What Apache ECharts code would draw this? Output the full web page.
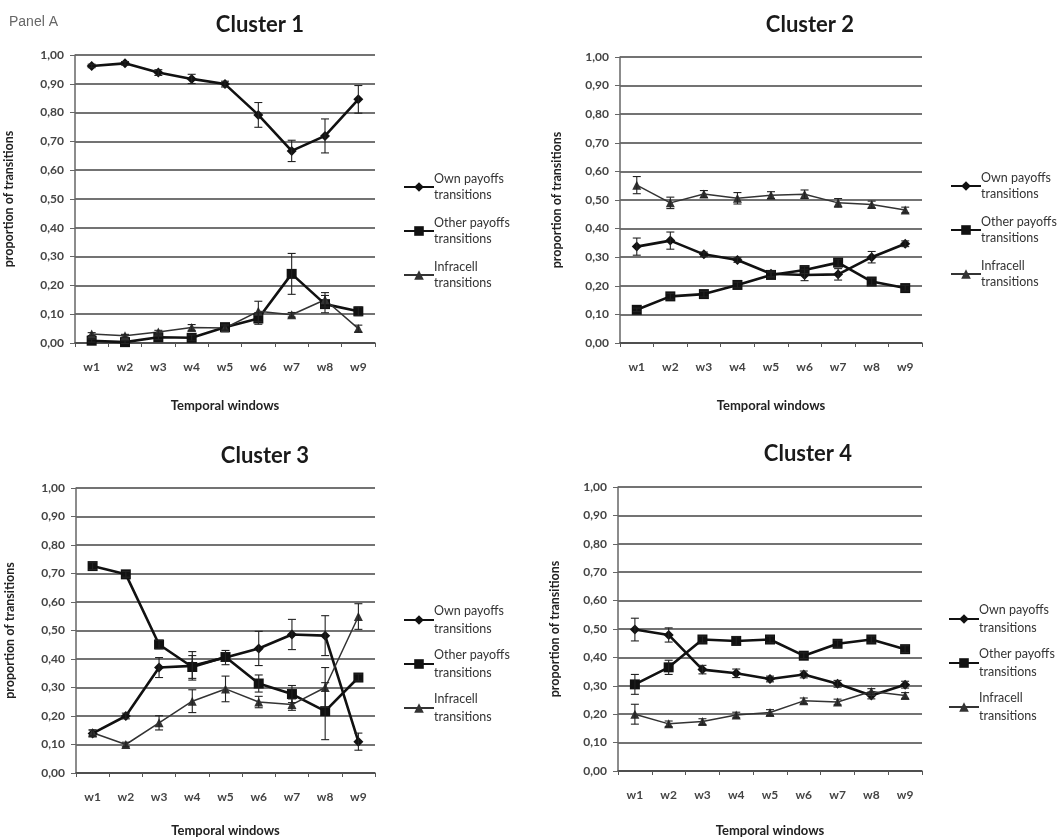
<!DOCTYPE html>
<html>
<head>
<meta charset="utf-8">
<script src="https://cdn.jsdelivr.net/npm/echarts@6/dist/echarts.min.js"></script>
<style>html,body{margin:0;padding:0;background:#fff;}#c{width:1064px;height:838px;}</style>
</head>
<body>
<div id="c"></div>
<script>
var categories = ['w1','w2','w3','w4','w5','w6','w7','w8','w9'];
var seriesNames = ['Own payoffs transitions','Other payoffs transitions','Infracell transitions'];
var clusterTitles = ['Cluster 1','Cluster 2','Cluster 3','Cluster 4'];

var own1 = [0.962, 0.971, 0.939, 0.917, 0.899, 0.792, 0.667, 0.719, 0.846];
var ownErr1 = [0.006, 0.006, 0.010, 0.016, 0.010, 0.043, 0.037, 0.059, 0.048];
var other1 = [0.008, 0.003, 0.020, 0.018, 0.055, 0.085, 0.240, 0.135, 0.110];
var otherErr1 = [0.005, 0.005, 0.008, 0.010, 0.010, 0.020, 0.071, 0.030, 0.015];
var infra1 = [0.031, 0.025, 0.038, 0.054, 0.052, 0.110, 0.098, 0.150, 0.050];
var infraErr1 = [0.005, 0.005, 0.006, 0.010, 0.008, 0.035, 0.008, 0.025, 0.012];

var own2 = [0.337, 0.358, 0.310, 0.290, 0.242, 0.238, 0.240, 0.300, 0.347];
var ownErr2 = [0.030, 0.030, 0.008, 0.008, 0.010, 0.020, 0.020, 0.020, 0.010];
var other2 = [0.116, 0.163, 0.171, 0.203, 0.238, 0.255, 0.281, 0.215, 0.192];
var otherErr2 = [0.006, 0.010, 0.010, 0.010, 0.010, 0.012, 0.012, 0.012, 0.010];
var infra2 = [0.552, 0.490, 0.521, 0.506, 0.517, 0.520, 0.490, 0.484, 0.465];
var infraErr2 = [0.030, 0.020, 0.012, 0.020, 0.012, 0.015, 0.015, 0.012, 0.010];

var own3 = [0.139, 0.200, 0.370, 0.376, 0.405, 0.437, 0.486, 0.482, 0.110];
var ownErr3 = [0.012, 0.010, 0.035, 0.050, 0.025, 0.060, 0.053, 0.070, 0.030];
var other3 = [0.726, 0.697, 0.451, 0.372, 0.407, 0.314, 0.277, 0.217, 0.335];
var otherErr3 = [0.012, 0.010, 0.015, 0.040, 0.015, 0.030, 0.030, 0.100, 0.012];
var infra3 = [0.141, 0.100, 0.176, 0.252, 0.295, 0.249, 0.240, 0.300, 0.549];
var infraErr3 = [0.010, 0.008, 0.025, 0.040, 0.045, 0.020, 0.020, 0.070, 0.045];

var own4 = [0.498, 0.479, 0.357, 0.344, 0.324, 0.340, 0.307, 0.266, 0.304];
var ownErr4 = [0.040, 0.025, 0.015, 0.015, 0.010, 0.012, 0.012, 0.012, 0.012];
var other4 = [0.305, 0.365, 0.463, 0.458, 0.463, 0.406, 0.448, 0.463, 0.429];
var otherErr4 = [0.035, 0.025, 0.012, 0.015, 0.012, 0.010, 0.012, 0.012, 0.012];
var infra4 = [0.200, 0.166, 0.174, 0.197, 0.206, 0.247, 0.243, 0.280, 0.266];
var infraErr4 = [0.035, 0.010, 0.010, 0.010, 0.010, 0.010, 0.010, 0.010, 0.010];

var panels = [
  {vals:[own1,other1,infra1], errs:[ownErr1,otherErr1,infraErr1]},
  {vals:[own2,other2,infra2], errs:[ownErr2,otherErr2,infraErr2]},
  {vals:[own3,other3,infra3], errs:[ownErr3,otherErr3,infraErr3]},
  {vals:[own4,other4,infra4], errs:[ownErr4,otherErr4,infraErr4]}
];

var layout = {
  grids: [
    {left:75, top:55, width:300, height:288},
    {left:620, top:57, width:302, height:286},
    {left:76, top:488, width:299, height:289},
    {left:618, top:487, width:304, height:288}
  ],
  titles: [[255,9],[805,9],[260,440],[803,438]],
  legends: [[398,158,16,-4],[945,157,16,-4],[398,588,18,-10],[943,587,18,-10]],
  xNameGap: [56, 56, 51, 53],
  yNameGap: [60, 57, 60, 57]
};

var FONT = 'Lato, "Liberation Sans", sans-serif';
var symbols = ['diamond','rect','triangle'];
var symbolSizes = [10, 10, 9];
var lineWidths = [2.6, 2.6, 1.5];
var colors = ['#111111','#111111','#333333'];

var option = {
  backgroundColor:'#ffffff',
  animation:false,
  title: [{text:'Panel A', left:4, top:10, textStyle:{fontFamily:'"Liberation Sans", Arial, sans-serif', fontSize:14, fontWeight:'normal', color:'#666'}}],
  grid: [], xAxis: [], yAxis: [], legend: [], series: []
};

panels.forEach(function(p, k){
  var g = layout.grids[k];
  option.grid.push({left:g.left, top:g.top, width:g.width, height:g.height, containLabel:false});
  option.title.push({text:clusterTitles[k], left:layout.titles[k][0], top:layout.titles[k][1], textAlign:'center',
    textStyle:{fontFamily:FONT, fontSize:22, fontWeight:'bold', color:'#1a1a1a'}});
  option.xAxis.push({type:'category', gridIndex:k, data:categories, boundaryGap:true,
    name:'Temporal windows', nameLocation:'middle', nameGap:layout.xNameGap[k],
    nameTextStyle:{fontFamily:FONT, fontSize:13, fontWeight:'bold', color:'#222'},
    axisLine:{show:true, lineStyle:{color:'#444', width:1.5}},
    axisTick:{show:true, length:4, inside:false, lineStyle:{color:'#555'}},
    axisLabel:{fontFamily:FONT, fontSize:12, color:'#444', fontWeight:'bold', margin:18},
    splitLine:{show:false}});
  option.yAxis.push({type:'value', gridIndex:k, min:0, max:1, interval:0.1,
    name:'proportion of transitions', nameLocation:'middle', nameGap:layout.yNameGap[k], nameRotate:90,
    nameTextStyle:{fontFamily:FONT, fontSize:12.5, fontWeight:'bold', color:'#222'},
    axisLine:{show:true, lineStyle:{color:'#666', width:1.5}},
    axisTick:{show:true, length:5, lineStyle:{color:'#666'}},
    axisLabel:{fontFamily:FONT, fontSize:12, color:'#444', fontWeight:'bold', margin:11,
      formatter:function(v){ return v.toFixed(2).replace('.', ','); }},
    splitLine:{show:true, lineStyle:{color:'#444', width:1.6}}});
  var lg = layout.legends[k];
  option.legend.push({orient:'vertical', left:lg[0], top:lg[1], itemWidth:30, itemHeight:12, itemGap:lg[3],
    data:seriesNames, selectedMode:false,
    formatter:function(n){ return n.replace(' transitions','\ntransitions'); },
    textStyle:{fontFamily:FONT, fontSize:12.5, color:'#333', lineHeight:lg[2], padding:[lg[2],0,0,-5]}});
  for (var s = 0; s < 3; s++) {
    option.series.push({type:'line', name:seriesNames[s], xAxisIndex:k, yAxisIndex:k,
      data:p.vals[s], symbol:symbols[s], symbolSize:symbolSizes[s],
      lineStyle:{color:colors[s], width:lineWidths[s]},
      itemStyle:{color:colors[s]}, z:3});
    var ebData = p.vals[s].map(function(v, i){ return [i, v - p.errs[s][i], v + p.errs[s][i]]; });
    option.series.push({type:'custom', name:'err'+k+'_'+s, xAxisIndex:k, yAxisIndex:k, data:ebData, z:4,
      silent:true,
      renderItem:function(params, api){
        var lo = api.coord([api.value(0), api.value(1)]);
        var hi = api.coord([api.value(0), api.value(2)]);
        var cap = 4;
        var st = {stroke:'#222', lineWidth:1.1};
        return {type:'group', children:[
          {type:'line', shape:{x1:lo[0], y1:lo[1], x2:hi[0], y2:hi[1]}, style:st},
          {type:'line', shape:{x1:lo[0]-cap, y1:lo[1], x2:lo[0]+cap, y2:lo[1]}, style:st},
          {type:'line', shape:{x1:hi[0]-cap, y1:hi[1], x2:hi[0]+cap, y2:hi[1]}, style:st}
        ]};
      }});
  }
});

var chart = echarts.init(document.getElementById('c'), null, {renderer:'canvas'});
chart.setOption(option);
</script>
</body>
</html>
